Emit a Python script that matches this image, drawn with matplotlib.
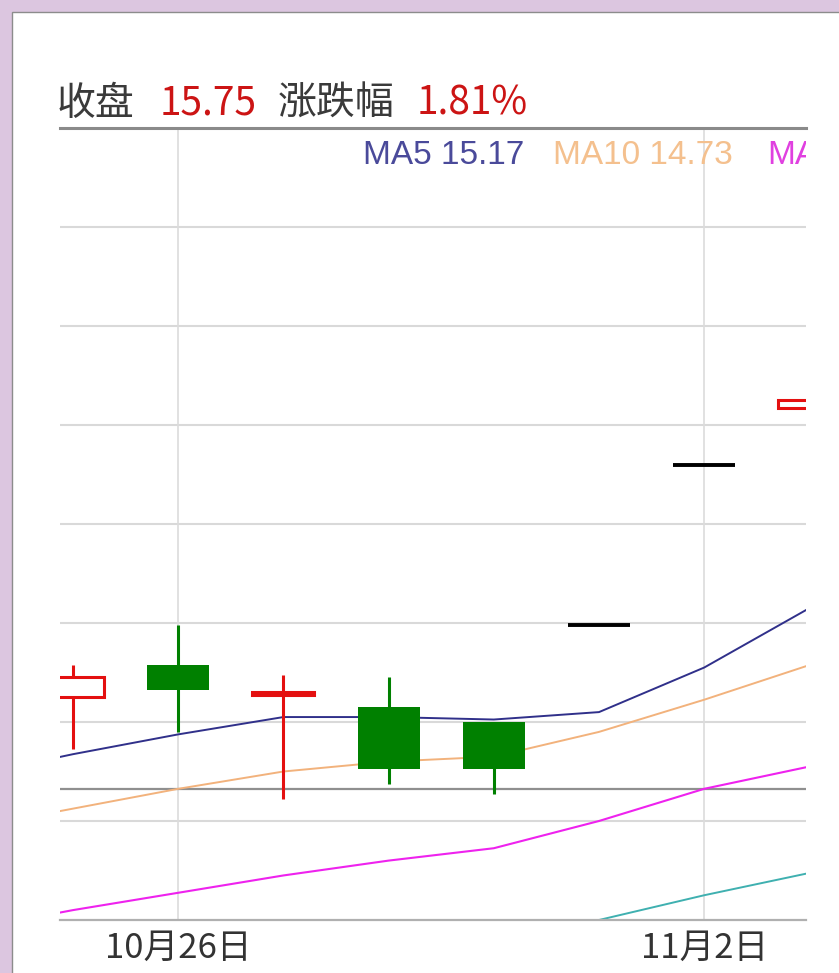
import numpy as np
import matplotlib
matplotlib.use("Agg")
import matplotlib.pyplot as plt
from matplotlib.patches import Rectangle

# Data
dates = ['10月23日', '10月26日', '10月27日', '10月28日', '10月29日', '10月30日', '11月2日', '11月3日']
open_ = [14.55, 14.68, 14.56, 14.51, 14.45, 14.84, 15.49, 15.72]
close = [14.63, 14.58, 14.57, 14.26, 14.26, 14.84, 15.49, 15.75]
high = [14.68, 14.84, 14.64, 14.63, 14.45, 14.84, 15.49, 15.75]
low = [14.34, 14.41, 14.14, 14.20, 14.16, 14.84, 15.49, 15.72]

# moving averages start one day before the first visible candle
ma_days = list(range(-1, 8))
ma5 = [14.23, 14.32, 14.40, 14.47, 14.47, 14.46, 14.49, 14.67, 14.91]
ma10 = [14.02, 14.10, 14.18, 14.25, 14.29, 14.31, 14.41, 14.54, 14.68]
ma20 = [13.61, 13.69, 13.76, 13.83, 13.89, 13.94, 14.05, 14.18, 14.27]
ma30 = [np.nan, np.nan, np.nan, np.nan, np.nan, 13.56, 13.65, 13.75, 13.84]
prev_close = 14.18

grid_levels = [14.05, 14.45, 14.85, 15.25, 15.65, 16.05, 16.45]
date_ticks = [1, 6]

# Figure
W, H = 839, 973
fig = plt.figure(figsize=(W / 100, H / 100), dpi=100, facecolor='#dcc6e0')
fig.add_artist(Rectangle((12 / W, -0.05), 1.1, (H - 12) / H + 0.05, transform=fig.transFigure,
                         facecolor='white', edgecolor='#8c8c8c', lw=1, zorder=-1))

ax = fig.add_axes([60 / W, (H - 920) / H, (806 - 60) / W, (920 - 128) / H])
ax.set_facecolor('white')
ax.set_xlim(-0.124, 6.968)
ax.set_ylim(13.65, 16.85)

# grid
for lv in grid_levels:
    ax.axhline(lv, color='#d9d9d9', lw=1.5, zorder=0)
for t in date_ticks:
    ax.axvline(t, color='#dcdcdc', lw=1.2, zorder=0)
ax.axhline(prev_close, color='#8f8f8f', lw=1.6, zorder=1)

# moving averages
ax.plot(ma_days, ma5, color='#30308a', lw=1.4, zorder=2)
ax.plot(ma_days, ma10, color='#f2b27c', lw=1.4, zorder=2)
ax.plot(ma_days, ma20, color='#ee22ee', lw=1.5, zorder=2)
ax.plot(ma_days, ma30, color='#3fb0b0', lw=1.4, zorder=2)

# candles
red, green = '#e41010', '#008000'
bw = 0.59
for i in range(len(dates)):
    o, c, h, l = open_[i], close[i], high[i], low[i]
    if o == c == h == l:
        ax.hlines(c, i - bw / 2, i + bw / 2, color='black', lw=2.8, zorder=4)
        continue
    top, bot = max(o, c), min(o, c)
    if c >= o:
        ax.vlines(i, top, h, color=red, lw=2.2, zorder=3)
        ax.vlines(i, l, bot, color=red, lw=2.2, zorder=3)
        ax.bar(i, top - bot, bw, bot, facecolor='white', edgecolor=red, lw=2.2, zorder=4)
    else:
        ax.vlines(i, l, h, color=green, lw=2.2, zorder=3)
        ax.bar(i, top - bot, bw, bot, color=green, lw=0, zorder=4)

# axes styling
for s in ['left', 'right']:
    ax.spines[s].set_visible(False)
ax.spines['top'].set_color('#8a8a8a')
ax.spines['top'].set_linewidth(2.2)
ax.spines['bottom'].set_color('#b0b0b0')
ax.spines['bottom'].set_linewidth(1.6)
ax.set_yticks([])
ax.set_xticks(date_ticks)
ax.set_xticklabels([dates[t] for t in date_ticks], fontfamily='Noto Sans CJK SC',
                   fontsize=25, color='#333333')
ax.tick_params(axis='x', length=0, pad=8)

# header text
cjk = ['Noto Sans CJK SC', 'DejaVu Sans']
ty = 1 - 104 / H
fig.text(57 / W, ty, '收盘', family=cjk, fontsize=28, color='#3a3a3a', va='center')
fig.text(160 / W, ty, '15.75', family=cjk, fontsize=28, color='#cc1414', va='center')
fig.text(278 / W, ty, '涨跌幅', family=cjk, fontsize=28, color='#3a3a3a', va='center')
fig.text(417 / W, ty, '1.81%', family=cjk, fontsize=28, color='#cc1414', va='center')

ly = 1 - 156 / H
ax.text(363 / W, ly, 'MA5 15.17', transform=fig.transFigure, family='Liberation Sans',
        fontsize=24, color='#4a4a9a', va='center', clip_on=True)
ax.text(553 / W, ly, 'MA10 14.73', transform=fig.transFigure, family='Liberation Sans',
        fontsize=24, color='#f4c08e', va='center', clip_on=True)
ax.text(767 / W, ly, 'MA20', transform=fig.transFigure, family='Liberation Sans',
        fontsize=24, color='#e040e0', va='center', clip_on=True)

fig.savefig('out.png', dpi=100, facecolor=fig.get_facecolor())
